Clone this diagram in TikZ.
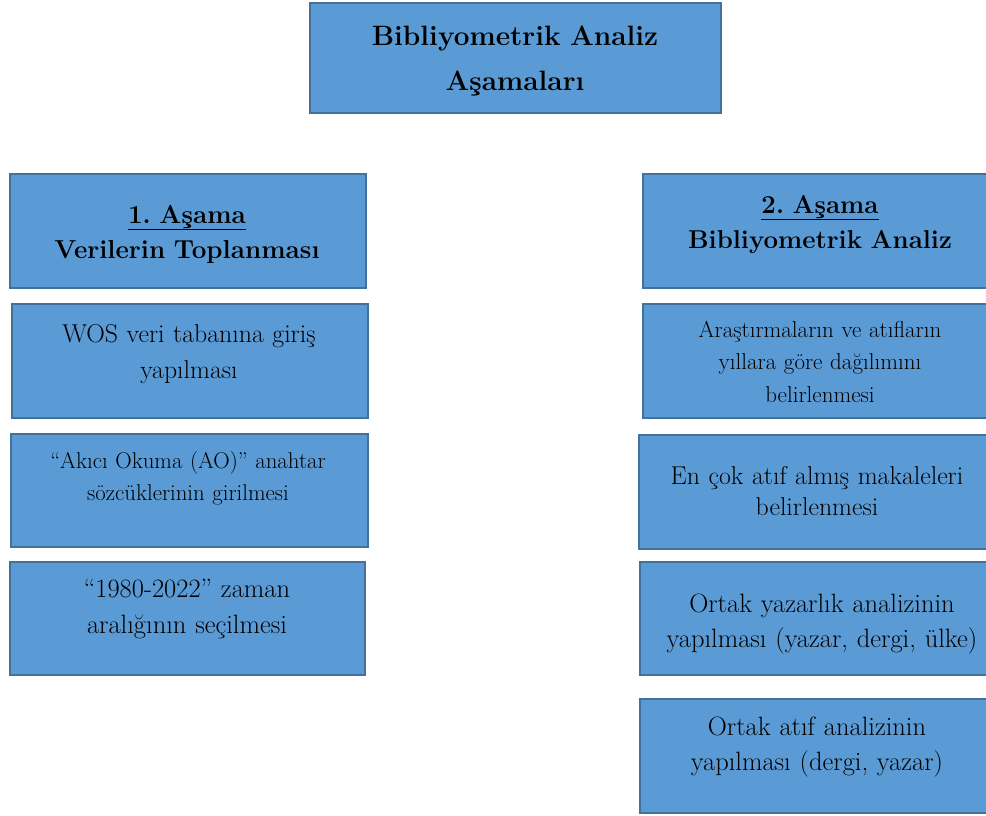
\documentclass[tikz,border=0pt]{standalone}
\usepackage{fontspec}
\definecolor{boxfill}{HTML}{5B9BD5}
\definecolor{boxline}{HTML}{41719C}
\tikzset{
  box/.style={draw=boxline, fill=boxfill, line width=2.2pt, rectangle, inner sep=0pt, anchor=north west},
  txt/.style={anchor=base, align=center, text width=380pt, inner sep=0pt, text=black},
  ttl/.style={txt, font=\bfseries\fontsize{28}{45}\selectfont},
  head/.style={txt, font=\bfseries\fontsize{26}{35}\selectfont},
  body/.style={txt, font=\fontsize{26}{36}\selectfont}
}
\frenchspacing
\begin{document}
\frenchspacing
\begin{tikzpicture}[x=1pt,y=-1pt]
\useasboundingbox (0,0) rectangle (986,815);
\clip (0,0) rectangle (986,815);
% boxes
\node[box, minimum width=411pt, minimum height=110pt] (top) at (309,2) {};
\node[box, minimum width=356pt, minimum height=114pt] (l0) at (9,173) {};
\node[box, minimum width=356pt, minimum height=114pt] (l1) at (11,303) {};
\node[box, minimum width=357pt, minimum height=113pt] (l2) at (10,433) {};
\node[box, minimum width=355pt, minimum height=113pt] (l3) at (9,561) {};
\node[box, minimum width=356pt, minimum height=114pt] (r0) at (642,173) {};
\node[box, minimum width=356pt, minimum height=114pt] (r1) at (642,303) {};
\node[box, minimum width=357pt, minimum height=114pt] (r2) at (638,434) {};
\node[box, minimum width=361pt, minimum height=113pt] (r3) at (639,561) {};
\node[box, minimum width=356pt, minimum height=114pt] (r4) at (639,698) {};
% texts
\node[ttl] (ttop) at (515,45) {Bibliyometrik Analiz\\Aşamaları};
\node[head] (tl0) at (187,223) {\underline{1. Aşama}\\Verilerin Toplanması};
\node[body, font=\fontsize{25.8}{36}\selectfont] (tl1) at (189,342) {WOS veri tabanına giriş\\yapılması};
\node[body, font=\fontsize{22.8}{32}\selectfont] (tl2) at (188,468) {“Akıcı Okuma (AO)” anahtar\\sözcüklerinin girilmesi};
\node[body, font=\fontsize{26.5}{36}\selectfont] (tl3) at (187,597) {“1980-2022” zaman\\aralığının seçilmesi};
\node[head, font=\bfseries\fontsize{25.8}{35}\selectfont] (tr0) at (820,213) {\underline{2. Aşama}\\Bibliyometrik Analiz};
\node[body, font=\fontsize{23}{32.5}\selectfont] (tr1) at (820,337) {Araştırmaların ve atıfların\\yıllara göre dağılımını\\belirlenmesi};
\node[body, font=\fontsize{25.8}{31}\selectfont] (tr2) at (817,484) {En çok atıf almış makaleleri\\belirlenmesi};
\node[body, font=\fontsize{26.5}{35}\selectfont] (tr3) at (822,612) {Ortak yazarlık analizinin\\yapılması (yazar, dergi, ülke)};
\node[body, font=\fontsize{26.5}{35}\selectfont] (tr4) at (817,735) {Ortak atıf analizinin\\yapılması (dergi, yazar)};
\end{tikzpicture}
\end{document}
